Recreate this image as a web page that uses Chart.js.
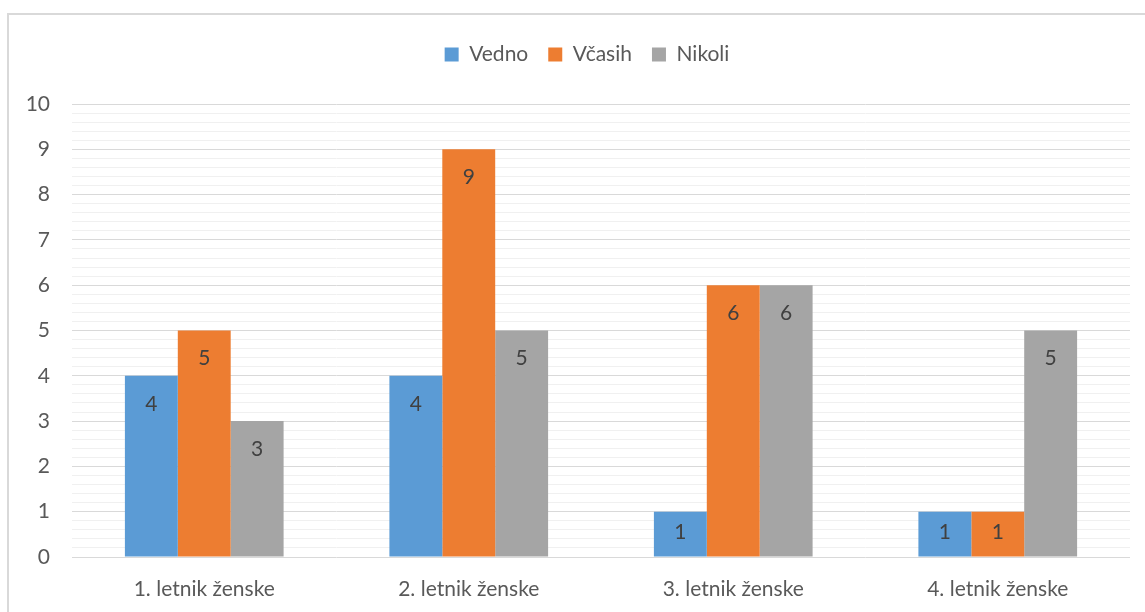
<!DOCTYPE html>
<html>
<head>
<meta charset="utf-8">
<script src="https://cdn.jsdelivr.net/npm/chart.js@4"></script>
<style>
  body { margin: 0; background: #fff; }
  #wrap { width: 1145px; height: 612px; position: relative; }
</style>
</head>
<body>
<div id="wrap"><canvas id="grafikon"></canvas></div>
<script>
const kategorije = ['1. letnik ženske', '2. letnik ženske', '3. letnik ženske', '4. letnik ženske'];
const vedno = [4, 4, 1, 1];
const vcasih = [5, 9, 6, 1];
const nikoli = [3, 5, 6, 5];

const pisava = 'Lato, "Open Sans", sans-serif';

// okvir okoli grafa (desni in spodnji rob sta zunaj slike)
const okvir = {
    id: 'okvir',
    beforeDraw(chart) {
        const ctx = chart.ctx;
        ctx.save();
        ctx.strokeStyle = '#d9d9d9';
        ctx.lineWidth = 2;
        ctx.strokeRect(8, 14, 1200, 700);
        ctx.restore();
    }
};

// oznake vrednosti znotraj stolpcev
const oznake = {
    id: 'oznake',
    afterDatasetsDraw(chart) {
        const ctx = chart.ctx;
        ctx.save();
        ctx.font = '21px ' + pisava;
        ctx.fillStyle = '#404040';
        ctx.textAlign = 'center';
        ctx.textBaseline = 'middle';
        chart.data.datasets.forEach((ds, i) => {
            chart.getDatasetMeta(i).data.forEach((bar, j) => {
                const visina = bar.base - bar.y;
                const odmik = Math.min(28, visina / 2 - 2);
                ctx.fillText(ds.data[j], bar.x, bar.y + odmik);
            });
        });
        ctx.restore();
    }
};

// več prostora pod legendo in rahel zamik v desno
const legendaRazmik = {
    id: 'legendaRazmik',
    beforeInit(chart) {
        const fit = chart.legend.fit;
        chart.legend.fit = function () {
            fit.bind(chart.legend)();
            this.height += 29;
        };
        const draw = chart.legend.draw;
        chart.legend.draw = function () {
            chart.ctx.save();
            chart.ctx.translate(17, 0);
            draw.bind(chart.legend)();
            chart.ctx.restore();
        };
    }
};

new Chart(document.getElementById('grafikon'), {
    type: 'bar',
    data: {
        labels: kategorije,
        datasets: [
            { label: 'Vedno', data: vedno, backgroundColor: '#5b9bd5' },
            { label: 'Včasih', data: vcasih, backgroundColor: '#ed7d31' },
            { label: 'Nikoli', data: nikoli, backgroundColor: '#a5a5a5' }
        ]
    },
    options: {
        responsive: true,
        maintainAspectRatio: false,
        animation: false,
        layout: { padding: { left: 10, right: 15, top: 24, bottom: 0 } },
        datasets: {
            bar: { categoryPercentage: 0.6, barPercentage: 1 }
        },
        plugins: {
            legend: {
                position: 'top',
                labels: {
                    boxWidth: 14,
                    boxHeight: 14,
                    padding: 20,
                    color: '#595959',
                    font: { family: pisava, size: 21 }
                }
            },
            tooltip: { enabled: false }
        },
        scales: {
            x: {
                grid: { display: false },
                border: { display: false },
                ticks: {
                    color: '#595959',
                    padding: 12,
                    font: { family: pisava, size: 21 }
                },
                afterFit(scale) { scale.height = 55; }
            },
            y: {
                min: 0,
                max: 10,
                border: { display: false },
                grid: {
                    drawTicks: false,
                    color: ctx => Math.abs(ctx.tick.value - Math.round(ctx.tick.value)) < 1e-6 ? '#d9d9d9' : '#f0f0f0'
                },
                ticks: {
                    stepSize: 0.2,
                    autoSkip: false,
                    padding: 22,
                    color: '#595959',
                    font: { family: pisava, size: 21 },
                    callback: v => Math.abs(v - Math.round(v)) < 1e-6 ? Math.round(v) : ''
                },
                afterFit(scale) { scale.width = 62; }
            }
        }
    },
    plugins: [okvir, oznake, legendaRazmik]
});
</script>
</body>
</html>
